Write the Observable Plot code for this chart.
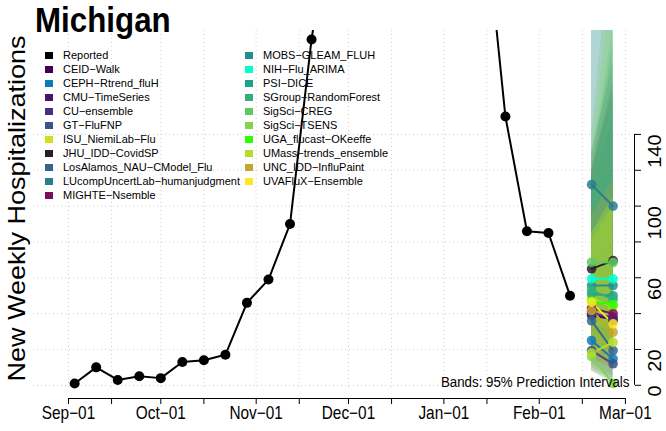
<!DOCTYPE html>
<html><head><meta charset="utf-8">
<script src="https://cdn.jsdelivr.net/npm/d3@7"></script>
<script src="https://cdn.jsdelivr.net/npm/@observablehq/plot@0.6"></script>
<style>
body{margin:0;background:#fff;}
#wrap{position:relative;width:666px;height:431px;font-family:"Liberation Sans",Arial,Helvetica,sans-serif;color:#000;overflow:hidden;}
#wrap svg{position:absolute;left:0;top:0;}
.ov{position:absolute;white-space:nowrap;}
#title{left:35px;top:2px;font-size:35px;font-weight:bold;line-height:35px;transform:scaleX(0.895);transform-origin:0 0;}
#ylab{left:-182px;top:195px;width:400px;height:27px;text-align:center;font-size:27px;line-height:27px;transform:rotate(-90deg) scale(1,0.86);transform-origin:50% 50%;}
#bands{right:37px;top:375px;font-size:14px;line-height:14px;transform:scaleX(0.95);transform-origin:100% 0;}
.lrow{position:absolute;height:14px;font-size:11px;line-height:14px;}
.sw{position:absolute;left:0;top:4px;width:8px;height:7px;}
.lt{position:absolute;left:18px;top:0;}
</style></head><body><div id="wrap"></div>
<script>
// ---- data ----
const reportedDates = ["2022-09-03","2022-09-10","2022-09-17","2022-09-24","2022-10-01","2022-10-08","2022-10-15","2022-10-22","2022-10-29","2022-11-05","2022-11-12","2022-11-19","2022-11-26","2022-12-03","2022-12-10","2022-12-17","2022-12-24","2022-12-31","2023-01-07","2023-01-14","2023-01-21","2023-01-28","2023-02-04","2023-02-11"];
const reportedValues = [1,10,3,5,4,13,14,17,46,59,90,193,275,420,480,455,410,390,330,268,150,86,85,50];

const models = ["CEID\u2212Walk","CEPH\u2212Rtrend_fluH","CMU\u2212TimeSeries","CU\u2212ensemble","GT\u2212FluFNP","ISU_NiemiLab\u2212Flu","JHU_IDD\u2212CovidSP","LosAlamos_NAU\u2212CModel_Flu","LUcompUncertLab\u2212humanjudgment","MIGHTE\u2212Nsemble","MOBS\u2212GLEAM_FLUH","NIH\u2212Flu_ARIMA","PSI\u2212DICE","SGroup\u2212RandomForest","SigSci\u2212CREG","SigSci\u2212TSENS","UGA_flucast\u2212OKeeffe","UMass\u2212trends_ensemble","UNC_IDD\u2212InfluPaint","UVAFluX\u2212Ensemble"];
const modelColors = ["#440154","#0f7bb8","#481668","#45307f","#3b528b","#d0e11c","#2d1b29","#32668d","#2b7d8e","#7b0f5c","#21908c","#00ffcc","#1fa088","#2db27d","#5ec962","#84d44b","#2cff00","#b5de2b","#c7a72a","#fde725"];

const forecastDates = ["2023-02-18","2023-02-25"];
const median1 = [39,25,41,40,19.4,48.3,65,36,112,43,55.7,59.4,51,53,68.7,16,47,18,41.7,46.4];
const median2 = [37,14.8,36,38,12,44,69.6,19.4,100,40,55.7,59.4,50,48,68.5,1,45,24,29.6,34.3];
const lower1  = [15,10,18,20,8,25,30,12,55,18,28,35,25,28,35,8,20,9,15,18];
const lower2  = [10,3,12,12,2,15,25,5,35,10,20,30,20,18,30,0,12,4,8,10];
const upper1  = [120,70,120,115,60,90,130,110,270,110,230,110,120,125,140,130,85,80,95,85];
const upper2  = [170,80,165,160,65,110,180,120,320,150,290,160,190,200,260,230,100,100,115,105];

const xTickDates = ["2022-09-01","2022-09-15","2022-10-01","2022-10-15","2022-11-01","2022-11-15","2022-12-01","2022-12-15","2023-01-01","2023-01-15","2023-02-01","2023-02-15","2023-03-01"];
const xTickLabels = ["Sep\u221201","","Oct\u221201","","Nov\u221201","","Dec\u221201","","Jan\u221201","","Feb\u221201","","Mar\u221201"];
const yTicks = [0,20,40,60,80,100,120,140];
const yTickLabels = ["0","20","","60","","100","","140"];

// ---- tables ----
const rep = reportedDates.map((d,i)=>({date:new Date(d), value:reportedValues[i]}));
const fc = [];
models.forEach((m,i)=>{
  fc.push({model:m,color:modelColors[i],date:new Date(forecastDates[0]),med:median1[i],lo:lower1[i],hi:upper1[i]});
  fc.push({model:m,color:modelColors[i],date:new Date(forecastDates[1]),med:median2[i],lo:lower2[i],hi:upper2[i]});
});
const xTicks = xTickDates.map(d=>new Date(d));
const labelMap = new Map(xTicks.map((d,i)=>[+d, xTickLabels[i]]));
const yLabelRows = yTicks.map((v,i)=>({v, t:yTickLabels[i]})).filter(r=>r.t!=="");

const xDomain = [new Date("2022-08-20T15:00:00Z"), new Date("2023-03-03T23:00:00Z")];
const yDomain = [-7.37, 198];
const grid = {stroke:"#cfcfcf", strokeOpacity:1, strokeDasharray:"1,3", strokeWidth:1};

const chart = Plot.plot({
  width:666, height:431,
  marginLeft:33, marginRight:32, marginTop:30, marginBottom:33,
  x:{type:"utc", domain:xDomain},
  y:{domain:yDomain},
  color:{type:"identity"},
  style:{fontFamily:"'Liberation Sans', Arial, sans-serif", background:"transparent", color:"#000"},
  marks:[
    Plot.gridX(xTicks, {...grid, insetBottom:8}),
    Plot.gridY(yTicks, {...grid, insetRight:4}),
    Plot.areaY(fc, {x:"date", y1:"lo", y2:"hi", z:"model", fill:"color", fillOpacity:0.2, clip:true}),
    Plot.line(fc, {x:"date", y:"med", z:"model", stroke:"color", strokeWidth:2, clip:true}),
    Plot.dot(fc, {x:"date", y:"med", fill:"color", r:4.8, fillOpacity:0.85, clip:true}),
    Plot.line(rep, {x:"date", y:"value", stroke:"#000", strokeWidth:2, clip:true}),
    Plot.dot(rep, {x:"date", y:"value", fill:"#000", r:5, clip:true}),
    Plot.ruleY([{y:yDomain[0], x1:xTicks[0], x2:xTicks[xTicks.length-1]}], {y:"y", x1:"x1", x2:"x2", stroke:"#000", strokeWidth:1}),
    Plot.axisX(xTicks, {anchor:"bottom", tickSize:6, tickPadding:2, fontSize:18, tickFormat:d=>labelMap.get(+d), label:null}),
    Plot.ruleX([{x:xDomain[1], y1:0, y2:140}], {x:"x", y1:"y1", y2:"y2", stroke:"#000", strokeWidth:1}),
    Plot.axisY(yTicks, {anchor:"right", tickSize:6, tickFormat:()=>"", label:null}),
    Plot.text(yLabelRows, {y:"v", text:"t", frameAnchor:"right", dx:21, rotate:-90, fontSize:20})
  ]
});

const wrap = document.getElementById("wrap");
wrap.appendChild(chart);

// condense horizontal text like the reference
chart.querySelectorAll('g[aria-label="x-axis tick label"] text').forEach(t=>{
  t.setAttribute("transform",(t.getAttribute("transform")||"")+" scale(0.855,1)");
});
chart.querySelectorAll('g[aria-label="text"] text').forEach(t=>{
  t.setAttribute("transform",(t.getAttribute("transform")||"")+" scale(1,0.9)");
});

// overlays: title, y label, legend, note
function ov(id, txt){const d=document.createElement("div");d.className="ov";d.id=id;d.textContent=txt;wrap.appendChild(d);}
ov("title","Michigan");
ov("ylab","New Weekly Hospitalizations");
ov("bands","Bands: 95% Prediction Intervals");

const legNames = ["Reported", ...models];
const legColors = ["#000000", ...modelColors];
legNames.forEach((n,i)=>{
  const col = i < 11 ? 0 : 1;
  const row = col===0 ? i : i-11;
  const r = document.createElement("div");
  r.className="lrow";
  r.style.left = (col===0 ? 45 : 245)+"px";
  r.style.top = (48 + row*14)+"px";
  const s = document.createElement("div"); s.className="sw"; s.style.background=legColors[i];
  const t = document.createElement("div"); t.className="lt"; t.textContent=n;
  r.appendChild(s); r.appendChild(t); wrap.appendChild(r);
});
</script></body></html>
